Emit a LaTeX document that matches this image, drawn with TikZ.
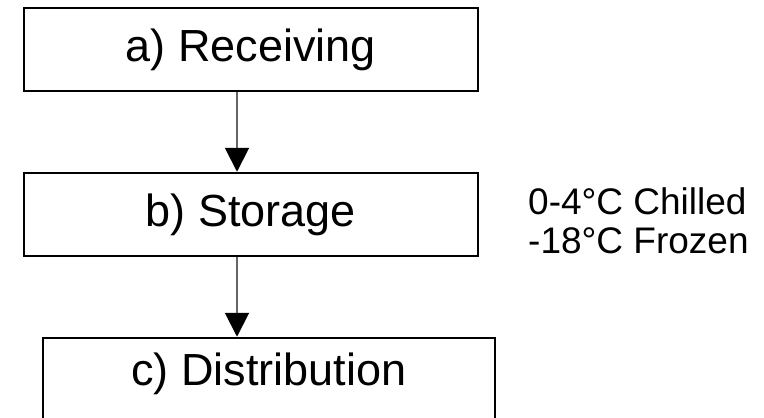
\documentclass[tikz,border=0pt]{standalone}
\usepackage{fontspec}
\setmainfont{Liberation Sans}
\usetikzlibrary{arrows.meta}
\begin{document}
\begin{tikzpicture}[
    x=1pt, y=1pt,
    >={Triangle[length=24pt, width=24pt, color=black]},
    sig/.style={->, line width=2pt, draw=black!60},
    blk/.style={draw=black, line width=2.5pt, inner sep=0pt,
                minimum width=454pt, minimum height=83pt,
                font=\fontsize{45}{48}\selectfont},
    note/.style={align=left, inner sep=0pt,
                 font=\fontsize{37}{39}\selectfont},
  ]
  \path[use as bounding box] (0,0) rectangle (764,-418);
  % the three steps
  \node[blk] (rec) at (251,-49.5) {a) Receiving};
  \node[blk] (sto) at (251,-214.5) {b) Storage};
  \node[blk, minimum width=452pt, text depth=20pt] (dis) at (269,-379.5) {c) Distribution};
  % storage temperatures
  \node[note, anchor=west] (temp) at (528,-221) {0-4°C Chilled\\-18°C Frozen};
  % flow between the steps
  \draw[sig] ([xshift=-14pt]rec.south) -- ([xshift=-14pt]sto.north);
  \draw[sig] ([xshift=-14pt]sto.south) -- ([xshift=-14pt]sto.south |- dis.north);
\end{tikzpicture}
\end{document}
